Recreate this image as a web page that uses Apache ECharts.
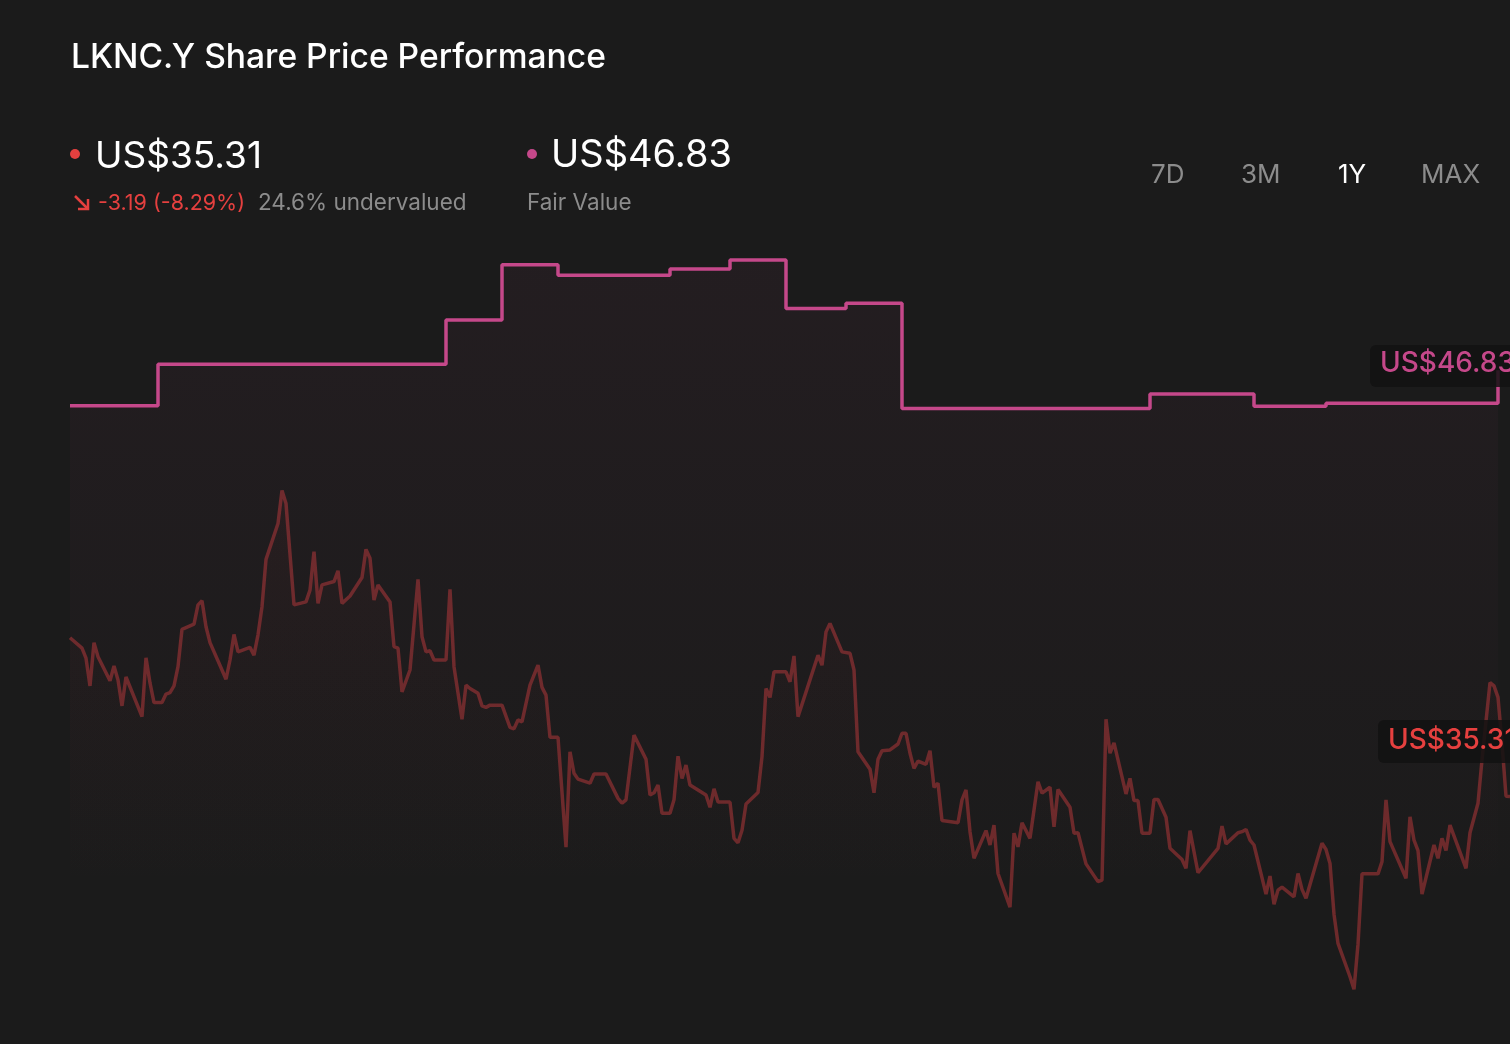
<!DOCTYPE html>
<html>
<head>
<meta charset="utf-8">
<script src="https://cdn.jsdelivr.net/npm/echarts@6/dist/echarts.min.js"></script>
<style>
html,body{margin:0;padding:0;background:#1b1b1b;}
#chart{width:1510px;height:1044px;}
</style>
</head>
<body>
<div id="chart"></div>
<script>
// Day offsets within the 1-year window (0..360) and share price (US$)
const priceDays = [0,3,4,5,6,7,10,11,12,13,14,18,19,20,21,23,24,25,26,27,28,31,32,33,34,35,38,39,40,41,42,45,46,47,48,49,52,53,54,56,59,60,61,62,63,66,67,68,70,73,74,75,76,77,80,81,82,83,85,87,88,89,90,91,94,95,96,98,99,100,102,103,104,105,108,110,111,112,113,115,117,118,119,120,122,124,125,126,127,130,131,134,137,138,139,141,144,145,146,147,148,150,151,152,153,154,155,159,160,161,162,165,166,167,168,169,172,173,174,175,176,179,180,181,182,187,188,189,190,193,195,196,197,200,201,202,203,205,207,208,209,210,211,212,214,215,216,217,218,222,223,224,225,226,229,230,231,232,235,236,237,238,240,242,243,245,246,247,250,251,252,254,257,258,259,260,261,264,265,266,267,268,270,271,272,274,275,278,279,280,282,287,288,289,292,293,294,295,296,299,300,301,302,303,306,307,308,309,313,314,315,316,317,320,321,322,323,327,328,329,330,334,335,336,337,338,341,342,343,344,345,349,350,352,353,355,356,357,358,359,360];
const priceValues = [39.60,39.32,39.05,38.30,39.47,39.09,38.44,38.84,38.46,37.76,38.54,37.47,39.06,38.38,37.85,37.85,38.08,38.12,38.30,38.82,39.83,39.97,40.49,40.60,39.90,39.47,38.73,38.48,39.00,39.69,39.22,39.34,39.13,39.68,40.44,41.72,42.69,43.58,43.23,40.49,40.57,40.89,41.93,40.53,41.03,41.12,41.41,40.53,40.73,41.23,41.99,41.75,40.62,41.03,40.57,39.36,39.32,38.14,38.73,41.18,39.63,39.22,39.25,39.00,39.00,40.91,38.82,37.40,38.32,38.23,38.10,37.76,37.72,37.78,37.78,37.18,37.14,37.38,37.33,38.32,38.86,38.26,38.05,36.91,36.91,33.94,36.52,35.94,35.78,35.67,35.92,35.92,35.26,35.13,35.22,36.97,36.32,35.35,35.41,35.62,34.86,34.86,35.22,36.40,35.80,36.16,35.62,35.35,35.02,35.52,35.16,35.16,34.18,34.06,34.40,35.11,35.42,36.39,38.23,37.99,38.68,38.68,38.41,39.11,37.47,39.13,38.86,39.76,39.99,39.22,39.18,38.73,36.52,36.05,35.41,36.32,36.55,36.57,36.73,37.02,37.02,36.48,36.07,36.27,36.18,36.55,35.56,35.67,34.66,34.60,35.22,35.49,34.36,33.64,34.39,34.00,34.54,33.23,32.32,34.32,33.95,34.60,34.18,35.71,35.40,35.56,34.49,35.50,35.02,34.32,34.33,33.49,33.01,33.05,37.40,36.48,36.76,35.38,35.80,35.20,35.20,34.32,34.32,35.23,35.23,34.75,33.91,33.61,33.37,34.39,33.25,33.91,34.51,34.03,34.33,34.36,34.42,34.13,34.00,32.67,33.16,32.40,32.78,32.86,32.60,33.23,32.80,32.56,34.05,33.88,33.50,32.13,31.34,30.44,30.10,31.32,33.22,33.22,33.55,35.22,34.09,33.10,34.76,34.13,33.85,32.67,34.00,33.64,34.18,33.85,34.54,33.37,34.33,35.13,36.30,38.39,38.30,37.99,36.75,35.32,35.31];

// Fair value estimate changes (day offset, US$)
const fairDays = [0,22,94,108,122,150,165,179,194,208,270,296,314,357];
const fairValues = [45.87,46.99,48.19,49.68,49.40,49.57,49.81,48.50,48.64,45.80,46.19,45.86,45.94,46.83];

const priceSeries = priceDays.map((d, i) => [d, priceValues[i]]);
const fairSeries = fairDays.map((d, i) => [d, fairValues[i]]);

const FONT = 'Inter, Roboto, "Noto Sans", sans-serif';
const RED = '#e5403f';
const PINK = '#c5488a';
const GRAY = '#8c8c8c';

const chart = echarts.init(document.getElementById('chart'), null, {renderer: 'canvas'});
chart.setOption({
  backgroundColor: '#1b1b1b',
  animation: false,
  grid: {left: 70, right: 0, top: 179, bottom: 51},
  xAxis: {type: 'value', min: 0, max: 360, show: false},
  yAxis: {type: 'value', min: 30, max: 52, show: false},
  series: [
    {
      name: 'Fair Value', type: 'line', data: fairSeries, step: 'end',
      symbol: 'none', z: 3,
      lineStyle: {color: PINK, width: 3.5},
      areaStyle: {
        color: new echarts.graphic.LinearGradient(0, 0, 0, 1, [
          {offset: 0, color: 'rgba(197,72,138,0.07)'},
          {offset: 0.88, color: 'rgba(197,72,138,0)'}
        ])
      }
    },
    {
      name: 'Price', type: 'line', data: priceSeries,
      symbol: 'none', z: 2,
      lineStyle: {color: '#6d2a2b', width: 3.5},
      areaStyle: {
        color: new echarts.graphic.LinearGradient(0, 0, 0, 1, [
          {offset: 0, color: 'rgba(229,64,63,0.05)'},
          {offset: 0.8, color: 'rgba(229,64,63,0)'}
        ])
      }
    }
  ],
  graphic: [
    {type: 'text', z: 100, left: 71, top: 41, style: {text: 'LKNC.Y Share Price Performance', fill: '#ffffff', font: '500 33.6px ' + FONT}},
    {type: 'circle', z: 100, shape: {cx: 75, cy: 154, r: 5}, style: {fill: RED}},
    {type: 'text', z: 100, left: 95, top: 138, style: {text: 'US$35.31', fill: '#ffffff', font: '400 37px ' + FONT}},
    {type: 'polyline', z: 100, shape: {points: [[75, 196], [87, 208]]}, style: {stroke: RED, lineWidth: 2.5, fill: null}},
    {type: 'polyline', z: 100, shape: {points: [[88, 199], [88, 209], [78, 209]]}, style: {stroke: RED, lineWidth: 2.5, fill: null}},
    {type: 'text', z: 100, left: 98, top: 193, style: {text: '-3.19 (-8.29%)', fill: RED, font: '400 21.5px ' + FONT}},
    {type: 'text', z: 100, left: 258, top: 192, style: {text: '24.6% undervalued', fill: GRAY, font: '400 22.5px ' + FONT}},
    {type: 'circle', z: 100, shape: {cx: 532, cy: 154, r: 5}, style: {fill: PINK}},
    {type: 'text', z: 100, left: 551, top: 137, style: {text: 'US$46.83', fill: '#ffffff', font: '400 38px ' + FONT}},
    {type: 'text', z: 100, left: 527, top: 192, style: {text: 'Fair Value', fill: GRAY, font: '400 22.5px ' + FONT}},
    {type: 'text', z: 100, left: 1151, top: 162, style: {text: '7D', fill: GRAY, font: '400 26px ' + FONT}},
    {type: 'text', z: 100, left: 1241, top: 162, style: {text: '3M', fill: GRAY, font: '400 26px ' + FONT}},
    {type: 'text', z: 100, left: 1338, top: 162, style: {text: '1Y', fill: '#ffffff', font: '400 26px ' + FONT}},
    {type: 'text', z: 100, left: 1421, top: 162, style: {text: 'MAX', fill: GRAY, font: '400 26px ' + FONT}},
    {type: 'rect', z: 100, shape: {x: 1370, y: 345, width: 160, height: 42, r: 6}, style: {fill: 'rgba(18,18,18,0.85)'}},
    {type: 'text', z: 101, left: 1380, top: 350, style: {text: 'US$46.83', fill: PINK, font: '500 28px ' + FONT}},
    {type: 'rect', z: 100, shape: {x: 1378, y: 720, width: 160, height: 43, r: 6}, style: {fill: 'rgba(18,18,18,0.85)'}},
    {type: 'text', z: 101, left: 1388, top: 727, style: {text: 'US$35.31', fill: RED, font: '500 28px ' + FONT}}
  ]
});
</script>
</body>
</html>
